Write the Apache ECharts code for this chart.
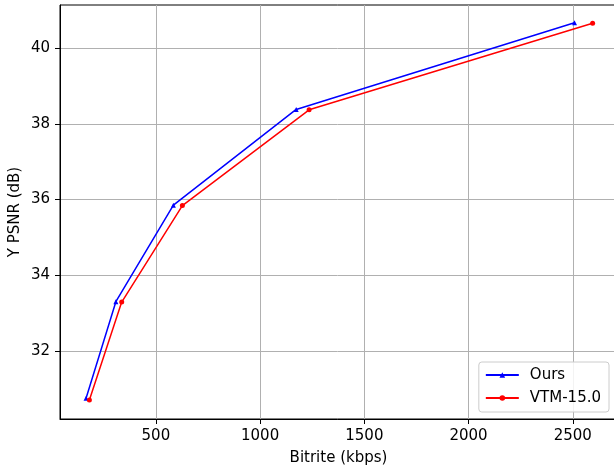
<!DOCTYPE html>
<html>
<head>
<meta charset="utf-8">
<script src="https://cdn.jsdelivr.net/npm/echarts@6/dist/echarts.min.js"></script>
<style>
  html, body { margin: 0; padding: 0; background: #fff; }
  #chart { width: 614px; height: 473px; }
</style>
</head>
<body>
<div id="chart"></div>
<script>
// values
const oursBitrate = [165, 308, 584, 1173, 2508];
const oursPsnr = [30.75, 33.30, 35.85, 38.38, 40.67];
const vtmBitrate = [181, 336, 627, 1235, 2595];
const vtmPsnr = [30.70, 33.29, 35.84, 38.37, 40.66];
const xTicks = [500, 1000, 1500, 2000, 2500];
const yTicks = [32, 34, 36, 38, 40];

const font = 'DejaVu Sans';

function pairs(xs, ys) {
  return xs.map((x, i) => [x, ys[i]]);
}

const chart = echarts.init(document.getElementById('chart'), null, { renderer: 'canvas' });

chart.setOption({
  animation: false,
  backgroundColor: '#fff',
  grid: {
    // the right spine lies just outside the picture
    left: 60, right: -3, top: 5, bottom: 54,
    containLabel: false, outerBoundsMode: 'none',
    show: true, borderColor: '#000', borderWidth: 1, backgroundColor: 'transparent'
  },
  legend: {
    orient: 'vertical',
    right: 5, bottom: 61,
    backgroundColor: 'rgba(255,255,255,0.85)',
    borderColor: '#cccccc', borderWidth: 1, borderRadius: 3,
    padding: [5, 8, 6, 6],
    itemGap: 7,
    itemWidth: 33, itemHeight: 7,
    textStyle: { fontFamily: font, fontSize: 15, color: '#000', lineHeight: 16, padding: [0, 0, 0, 6] },
    data: ['Ours', 'VTM-15.0']
  },
  xAxis: {
    type: 'value',
    min: 40, max: 2712,
    name: 'Bitrite (kbps)',
    nameLocation: 'middle', nameGap: 32, nameMoveOverlap: false,
    nameTextStyle: { fontFamily: font, fontSize: 15, color: '#000' },
    axisLine: { show: true, onZero: false, lineStyle: { color: '#000', width: 1 } },
    axisTick: { show: true, length: 5, lineStyle: { color: '#000' }, customValues: xTicks },
    axisLabel: {
      fontFamily: font, fontSize: 15, color: '#000', margin: 10, customValues: xTicks,
      formatter: v => String(v)
    },
    splitLine: { show: true, lineStyle: { color: '#b0b0b0', width: 1 } }
  },
  yAxis: {
    type: 'value',
    min: 30.2, max: 41.14,
    name: 'Y PSNR (dB)',
    nameLocation: 'middle', nameGap: 37, nameMoveOverlap: false,
    nameTextStyle: { fontFamily: font, fontSize: 15, color: '#000' },
    axisLine: { show: true, onZero: false, lineStyle: { color: '#000', width: 1 } },
    axisTick: { show: true, length: 5, lineStyle: { color: '#000' }, customValues: yTicks },
    axisLabel: {
      fontFamily: font, fontSize: 15, color: '#000', margin: 10, customValues: yTicks,
      formatter: v => String(v)
    },
    splitLine: { show: true, lineStyle: { color: '#b0b0b0', width: 1 } }
  },
  series: [
    {
      name: 'Ours', type: 'line',
      data: pairs(oursBitrate, oursPsnr),
      symbol: 'triangle', symbolSize: 5,
      itemStyle: { color: '#0000ff' },
      lineStyle: { color: '#0000ff', width: 1.5 }
    },
    {
      name: 'VTM-15.0', type: 'line',
      data: pairs(vtmBitrate, vtmPsnr),
      symbol: 'circle', symbolSize: 5,
      itemStyle: { color: '#ff0000' },
      lineStyle: { color: '#ff0000', width: 1.5 }
    }
  ]
});
</script>
</body>
</html>
